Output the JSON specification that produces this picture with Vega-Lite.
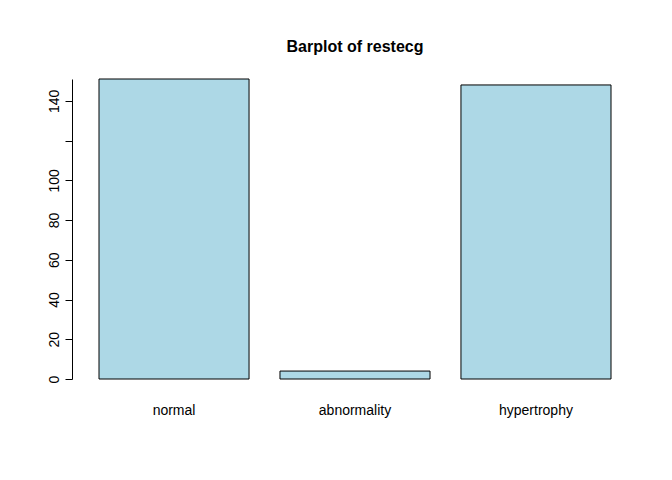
{
  "$schema": "https://vega.github.io/schema/vega-lite/v6.json",
  "autosize": "none",
  "width": 512,
  "height": 300,
  "padding": {"left": 99, "top": 79, "right": 61, "bottom": 101},
  "background": "white",
  "title": {"text": "Barplot of restecg", "fontSize": 16, "font": "Liberation Sans", "fontWeight": "bold", "offset": 24, "color": "black"},
  "data": {"values": [
    {"restecg": "normal", "count": 151},
    {"restecg": "abnormality", "count": 4},
    {"restecg": "hypertrophy", "count": 148}
  ]},
  "config": {"view": {"stroke": null}, "font": "Liberation Sans"},
  "mark": {"type": "bar", "fill": "#ADD8E6", "stroke": "black", "strokeWidth": 1},
  "encoding": {
    "x": {"field": "restecg", "type": "nominal", "sort": null,
      "scale": {"paddingInner": 0.171, "paddingOuter": 0},
      "axis": {"title": null, "domain": false, "ticks": false, "labelAngle": 0, "labelFontSize": 14, "labelColor": "black", "labelPadding": 24}},
    "y": {"field": "count", "type": "quantitative",
      "scale": {"domain": [0, 151], "nice": false},
      "axis": {"title": null, "grid": false, "values": [0, 20, 40, 60, 80, 100, 120, 140],
        "labelExpr": "datum.value == 120 ? '' : datum.label",
        "labelAngle": -90, "labelAlign": "center", "labelBaseline": "bottom", "labelFontSize": 14, "labelColor": "black",
        "labelPadding": 4, "offset": 27, "tickSize": 7, "tickColor": "black", "domainColor": "black"}}
  }
}
